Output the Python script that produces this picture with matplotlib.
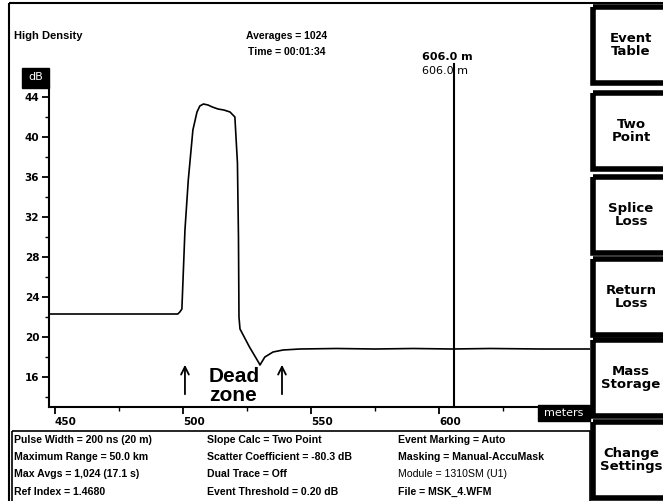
import matplotlib
matplotlib.use('Agg')
import matplotlib.pyplot as plt
from matplotlib.patches import Rectangle
from matplotlib.ticker import MultipleLocator

# OTDR trace
dist_m = [447.7, 498.0, 498.8, 499.6, 500.8, 502.1, 503.9, 505.5, 506.6, 508.0,
          509.8, 511.5, 513.7, 516.0, 518.4, 520.3, 521.3, 521.7, 521.9, 522.3,
          526.0, 529.7, 530.1, 532.0, 535.2, 539.1, 545.7, 560.0, 575.0, 590.0,
          605.0, 620.0, 640.0, 659.0]
level_db = [22.3, 22.3, 22.5, 22.8, 30.7, 35.7, 40.7, 42.5, 43.1, 43.3,
            43.2, 43.0, 42.8, 42.7, 42.5, 42.0, 37.4, 30.0, 22.0, 20.8,
            19.0, 17.4, 17.2, 18.0, 18.5, 18.7, 18.8, 18.85, 18.8, 18.85,
            18.8, 18.85, 18.8, 18.8]
cursor_m = 606.0
dead_zone = [500.8, 538.7]

header = ['High Density', 'Averages = 1024', 'Time = 00:01:34']
buttons = ['Event\nTable', 'Two\nPoint', 'Splice\nLoss', 'Return\nLoss',
           'Mass\nStorage', 'Change\nSettings']
info_cols = [
    ['Pulse Width = 200 ns (20 m)', 'Maximum Range = 50.0 km',
     'Max Avgs = 1,024 (17.1 s)', 'Ref Index = 1.4680'],
    ['Slope Calc = Two Point', 'Scatter Coefficient = -80.3 dB',
     'Dual Trace = Off', 'Event Threshold = 0.20 dB'],
    ['Event Marking = Auto', 'Masking = Manual-AccuMask',
     'Module = 1310SM (U1)', 'File = MSK_4.WFM'],
]

W, H = 663, 501
narrow = ['Liberation Sans Narrow', 'Liberation Sans', 'DejaVu Sans']
fig = plt.figure(figsize=(W / 100, H / 100), dpi=100)

# overlay in pixel coordinates for the screen furniture
bg = fig.add_axes([0, 0, 1, 1])
bg.set_xlim(0, W)
bg.set_ylim(H, 0)
bg.axis('off')

bg.add_patch(Rectangle((9, 3), W, H, fill=False, lw=1.5, ec='black'))
bg.text(14, 36, header[0], fontsize=8, fontweight='bold', family=narrow, va='center')
bg.text(287, 36, header[1], fontsize=7.5, fontweight='bold', family=narrow, ha='center', va='center')
bg.text(287, 52, header[2], fontsize=7.5, fontweight='bold', family=narrow, ha='center', va='center')

# side buttons
tops = [5, 91, 175, 257, 338, 420]
for top, lab in zip(tops, buttons):
    bg.add_patch(Rectangle((592.5, top + 2), 80, 76, fill=False, lw=4, ec='black'))
    bg.text(631, top + 40, lab, fontsize=9.5, fontweight='bold', ha='center', va='center',
            linespacing=1.05, family=['DejaVu Sans'])

# info panel
bg.add_patch(Rectangle((12, 431), 578, 80, fill=False, lw=1.2, ec='black'))
col_x = [14, 207, 398]
row_y = [440, 457, 474, 492]
for cx, col in zip(col_x, info_cols):
    for ry, txt in zip(row_y, col):
        w = 'normal' if txt.startswith('Module') else 'bold'
        bg.text(cx, ry, txt, fontsize=7.6, fontweight=w, family=narrow, va='center')

# dB and meters tags
bg.add_patch(Rectangle((22, 68), 27, 20, color='black'))
bg.text(35.5, 77, 'dB', color='white', fontsize=8, ha='center', va='center')
bg.add_patch(Rectangle((538, 405), 52, 16, color='black'))
bg.text(564, 413, 'meters', color='white', fontsize=8, ha='center', va='center')

# trace axes
ax = fig.add_axes([49 / W, (H - 407) / H, (590 - 49) / W, (407 - 87) / H])
ax.patch.set_alpha(0)
ax.plot(dist_m, level_db, color='black', lw=1.2)
ax.set_xlim(447.7, 659)
ax.set_ylim(13, 45)
for s in ['top', 'right']:
    ax.spines[s].set_visible(False)
ax.spines['left'].set_linewidth(1.5)
ax.spines['bottom'].set_linewidth(1.5)
ax.xaxis.set_minor_locator(MultipleLocator(25))
ax.yaxis.set_minor_locator(MultipleLocator(2))
ax.set_yticks([16, 20, 24, 28, 32, 36, 40, 44])
ax.set_xticks([450, 500, 550, 600])
ax.tick_params(axis='both', which='major', length=5, width=1.3, labelsize=7.5, pad=2)
ax.tick_params(axis='both', which='minor', length=3, width=1)
for lab in ax.get_xticklabels():
    lab.set_fontweight('bold')
    lab.set_horizontalalignment('left')
for lab in ax.get_yticklabels():
    lab.set_fontweight('bold')

# cursor
ax.axvline(cursor_m, ymin=0, ymax=(47.3 - 13) / 32, color='black', lw=1.5, clip_on=False)
ax.text(cursor_m - 12.8, 48.0, f'{cursor_m:.1f} m', fontsize=8, fontweight='bold',
        family=['DejaVu Sans'], va='center')
ax.text(cursor_m - 12.8, 46.6, f'{cursor_m:.1f} m', fontsize=8, family=['DejaVu Sans'], va='center')

# dead zone arrows
for xm in dead_zone:
    ax.annotate('', xy=(xm, 17.5), xytext=(xm, 14.0),
                arrowprops=dict(arrowstyle='->', lw=1.3, color='black', mutation_scale=14))
ax.text(510.2, 15.1, 'Dead\nzone', fontsize=15, fontweight='bold', va='center',
        linespacing=1.0, family=['Liberation Sans', 'DejaVu Sans'])

fig.savefig('out.png', dpi=100)
